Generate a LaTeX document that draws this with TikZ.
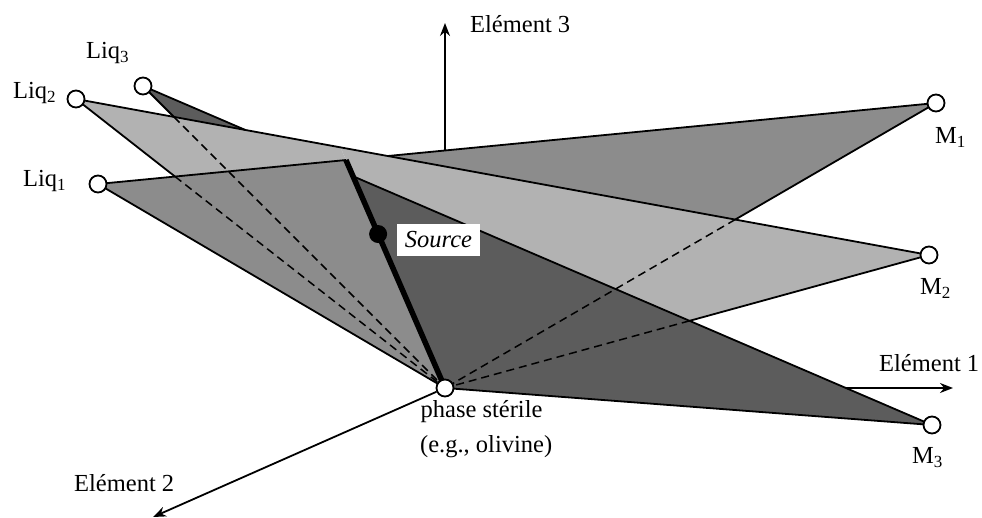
\documentclass[tikz,border=0pt]{standalone}
\usepackage{fontspec}
\setmainfont{Liberation Serif}
\usetikzlibrary{arrows.meta,calc}
\newcommand\lsub[1]{\raisebox{-4pt}{\fontsize{17}{17}\selectfont #1}}
\definecolor{grayA}{RGB}{140,140,140}
\definecolor{grayB}{RGB}{178,178,178}
\definecolor{grayC}{RGB}{92,92,92}
\begin{document}
\begin{tikzpicture}[x=1pt,y=-1pt,
  edge/.style={line width=1.8pt, line join=round},
  hid/.style={line width=1.5pt, dash pattern=on 8pt off 5pt},
  pt/.style={circle, draw, fill=white, line width=1.8pt, minimum size=17pt, inner sep=0pt},
  lab/.style={anchor=base west, inner sep=0pt, font=\fontsize{24.5}{29}\selectfont},
  axis/.style={line width=1.8pt, -{Stealth[length=13pt,width=10pt]}}]
\useasboundingbox (0,0) rectangle (982,518);
% vertices
\coordinate (L1) at (98,184);
\coordinate (L2) at (76,99);
\coordinate (L3) at (143,86);
\coordinate (M1) at (936,103);
\coordinate (M2) at (929,255);
\coordinate (M3) at (932,425);
\coordinate (S) at (445,388);
\coordinate (T) at ($(L1)!0.2959!(M1)$);
% intersections
\coordinate (X1) at (intersection of L1--M1 and L2--M2);
\coordinate (X2) at (intersection of M1--S and L2--M2);
\coordinate (X3) at (intersection of L2--S and L1--M1);
\coordinate (X4) at (intersection of M2--S and L3--M3);
\coordinate (X5) at (intersection of L3--M3 and L2--M2);
\coordinate (X6) at (intersection of L3--M3 and T--S);
\coordinate (X7) at (intersection of L3--S and L2--M2);
% half planes split by the line T--S
\coordinate (Ttop) at ($(S)!388/228!(T)$);
\coordinate (Sbot) at ($(T)!358/228!(S)$);
\begin{scope}
  \clip (0,0) -- (Ttop) -- (Sbot) -- (0,518) -- cycle;
  \fill[grayC] (L3) -- (M3) -- (S) -- cycle;
  \fill[grayB] (L2) -- (M2) -- (S) -- cycle;
  \fill[grayA] (L1) -- (M1) -- (S) -- cycle;
\end{scope}
\begin{scope}
  \clip (Ttop) -- (982,0) -- (982,518) -- (Sbot) -- cycle;
  \fill[grayA] (L1) -- (M1) -- (S) -- cycle;
  \fill[grayB] (L2) -- (M2) -- (S) -- cycle;
  \fill[grayC] (L3) -- (M3) -- (S) -- cycle;
\end{scope}
% visible edges
\draw[edge] (L1) -- (T);
\draw[edge] (X1) -- (M1) -- (X2);
\draw[edge] (L1) -- (S);
\draw[edge] (L2) -- (M2) -- (X4);
\draw[edge] (L2) -- (X3);
\draw[edge] (L3) -- (X5);
\draw[edge] (X6) -- (M3) -- (S);
\draw[edge] (L3) -- (X7);
% hidden edges
\draw[hid] (X2) -- (S);
\draw[hid] (X3) -- (S);
\draw[hid] (X4) -- (S);
\draw[hid] (X7) -- (S);
% thick line and source
\draw[line width=5.5pt] (T) -- (S);
\node[circle, fill=black, minimum size=18pt, inner sep=0pt] (src) at ($(T)!0.3246!(S)$) {};
\node[fill=white, minimum width=83pt, minimum height=32pt, inner sep=0pt,
      text height=15pt, text depth=0pt, font=\fontsize{24.5}{29}\selectfont\itshape]
      (srclab) at (438.5,240) {Source};
% axes
\coordinate (vtop) at (445,0);
\coordinate (hright) at (982,388);
\coordinate (e3b) at (intersection of S--vtop and L1--M1);
\coordinate (e3) at (445,23);
\coordinate (e1b) at (intersection of S--hright and L3--M3);
\coordinate (e1) at (953,388);
\coordinate (e2) at (153,517);
\draw[axis] (e3b) -- (e3);
\draw[axis] (e1b) -- (e1);
% points
\node[pt] (liq1) at (L1) {};
\node[pt] (liq2) at (L2) {};
\node[pt] (liq3) at (L3) {};
\node[pt] (m1) at (M1) {};
\node[pt] (m2) at (M2) {};
\node[pt] (m3) at (M3) {};
\node[pt] (ster) at (S) {};
\draw[axis] (ster) -- (e2);
% labels
\node[lab] (tl3) at (86,58.5) {Liq\lsub{3}};
\node[lab] (tl2) at (13,99) {Liq\lsub{2}};
\node[lab] (tl1) at (23,187) {Liq\lsub{1}};
\node[lab] (tm1) at (935,144) {M\lsub{1}};
\node[lab] (tm2) at (920,295) {M\lsub{2}};
\node[lab] (tm3) at (912,463) {M\lsub{3}};
\node[lab] (ts1) at (420.5,417) {phase stérile};
\node[lab] (ts2) at (420,452) {(e.g., olivine)};
\node[lab] (te3) at (470,32.5) {Elément 3};
\node[lab] (te1) at (879,371) {Elément 1};
\node[lab] (te2) at (74,491.5) {Elément 2};
\end{tikzpicture}
\end{document}
